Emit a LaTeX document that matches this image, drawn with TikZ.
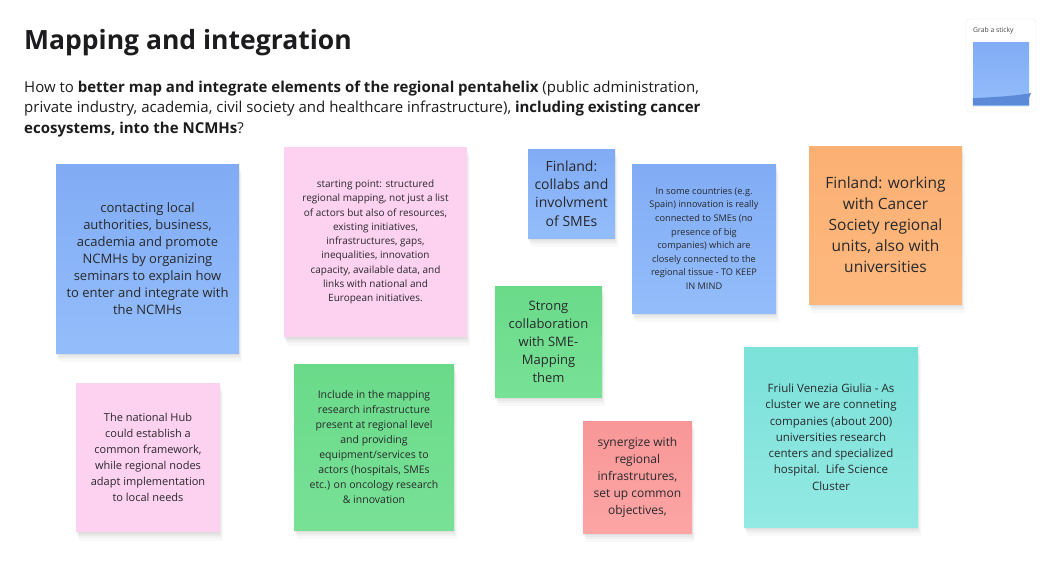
\documentclass[tikz,border=0pt]{standalone}
\usepackage{fontspec}
\setmainfont{Open Sans}
\usetikzlibrary{shadows}

\definecolor{inkgray}{RGB}{28,28,30}
\definecolor{notegray}{RGB}{40,40,44}
\definecolor{blueTop}{RGB}{129,172,245}
\definecolor{blueBot}{RGB}{147,189,250}
\definecolor{pinkNote}{RGB}{253,209,240}
\definecolor{greenTop}{RGB}{106,218,137}
\definecolor{greenBot}{RGB}{120,225,150}
\definecolor{orangeTop}{RGB}{252,176,115}
\definecolor{orangeBot}{RGB}{253,184,126}
\definecolor{redTop}{RGB}{249,151,151}
\definecolor{redBot}{RGB}{252,165,165}
\definecolor{tealTop}{RGB}{122,225,217}
\definecolor{tealBot}{RGB}{147,233,227}
\definecolor{bandBlue}{RGB}{93,138,216}

\newcommand{\notefont}[2]{\fontsize{#1}{#2}\selectfont}

\begin{document}
\begin{tikzpicture}[x=1pt, y=-1pt,
	softshadow/.style={
		general shadow={fill=black, opacity=0.025, shadow xshift=3pt, shadow yshift=-9pt},
		general shadow={fill=black, opacity=0.03, shadow xshift=2pt, shadow yshift=-6pt},
		general shadow={fill=black, opacity=0.035, shadow xshift=1pt, shadow yshift=-3.5pt},
		general shadow={fill=black, opacity=0.04, shadow xshift=0pt, shadow yshift=-1.5pt}},
	sticky/.style 2 args={minimum width=#1, minimum height=#2, inner sep=0, align=center, text=notegray, softshadow},
	blue/.style={top color=blueTop, bottom color=blueBot},
	pink/.style={fill=pinkNote},
	green/.style={top color=greenTop, bottom color=greenBot},
	orange/.style={top color=orangeTop, bottom color=orangeBot},
	red/.style={top color=redTop, bottom color=redBot},
	teal/.style={top color=tealTop, bottom color=tealBot}]
	\useasboundingbox[fill=white] (0,0) rectangle (1042,571);

	% header
	\node[anchor=base west, inner sep=0, text=inkgray, font=\notefont{26.5}{30}\bfseries] (title) at (24,49) {Mapping and integration};
	\node[anchor=north west, inner sep=0, align=left, text=inkgray, font=\notefont{15}{20.2}] (question) at (24,81)
		{How to \textbf{better map and integrate elements of the regional pentahelix} (public administration,\\
		private industry, academia, civil society and healthcare infrastructure), \textbf{including existing cancer}\\
		\textbf{ecosystems, into the NCMHs}?};

	% sticky notes
	\node[sticky={183pt}{189pt}, blue, font=\notefont{13}{17}] (contact) at (147.5,258.5)
		{contacting local\\ authorities, business,\\ academia and promote\\ NCMHs by organizing\\ seminars to explain how\\ to enter and integrate with\\ the NCMHs};
	\node[sticky={183pt}{190pt}, pink, font=\notefont{10}{14.25}] (start) at (375.5,242)
		{starting point: structured\\ regional mapping, not just a list\\ of actors but also of resources,\\ existing initiatives,\\ infrastructures, gaps,\\ inequalities, innovation\\ capacity, available data, and\\ links with national and\\ European initiatives.};
	\node[sticky={87pt}{89pt}, blue, font=\notefont{14}{18.3}] (finsme) at (571.5,193.5)
		{Finland:\\ collabs and\\ involvment\\ of SMEs};
	\node[sticky={144pt}{149pt}, blue, font=\notefont{9.2}{13.6}] (spain) at (704,238.5)
		{In some countries (e.g.\\ Spain) innovation is really\\ connected to SMEs (no\\ presence of big\\ companies) which are\\ closely connected to the\\ regional tissue - TO KEEP\\ IN MIND};
	\node[sticky={153pt}{158pt}, orange, font=\notefont{15.5}{21}] (cancer) at (885.5,225)
		{Finland: working\\ with Cancer\\ Society regional\\ units, also with\\ universities};
	\node[sticky={107pt}{111pt}, green, font=\notefont{13}{18}] (strong) at (548.5,341.5)
		{Strong\\ collaboration\\ with SME-\\ Mapping\\ them};
	\node[sticky={144pt}{149pt}, pink, font=\notefont{11}{16}] (hub) at (148,457.5)
		{The national Hub\\ could establish a\\ common framework,\\ while regional nodes\\ adapt implementation\\ to local needs};
	\node[sticky={160pt}{166pt}, green, font=\notefont{10.5}{15}] (include) at (374,447)
		{Include in the mapping\\ research infrastructure\\ present at regional level\\ and providing\\ equipment/services to\\ actors (hospitals, SMEs\\ etc.) on oncology research\\ \& innovation};
	\node[sticky={109pt}{112pt}, red, font=\notefont{12}{17}] (synergy) at (637.5,477)
		{synergize with\\ regional\\ infrastrutures,\\ set up common\\ objectives,};
	\node[sticky={174pt}{180pt}, teal, font=\notefont{11.5}{16.3}] (friuli) at (831,437)
		{Friuli Venezia Giulia - As\\ cluster we are conneting\\ companies (about 200)\\ universities research\\ centers and specialized\\ hospital.\ \ Life Science\\ Cluster};

	% grab a sticky
	\node[draw=gray!15, fill=white, rounded corners=4pt, minimum width=70pt, minimum height=93pt, inner sep=0] (grab) at (1001,65.5) {};
	\node[anchor=west, inner sep=0, text=gray!55!black, font=\notefont{6.8}{8}] (grablabel) at (973,31) {Grab a sticky};
	\node[blue, minimum width=56pt, minimum height=63pt, inner sep=0,
		general shadow={fill=black, opacity=0.06, shadow yshift=-1.5pt}] (pad) at (1001,73.5) {};
	\fill[bandBlue] (pad.south west) -- ++(0,-7) .. controls (995,97) and (1016,96) .. (1031,93) -- (1029,98) -- (pad.south east) -- cycle;
\end{tikzpicture}
\end{document}
